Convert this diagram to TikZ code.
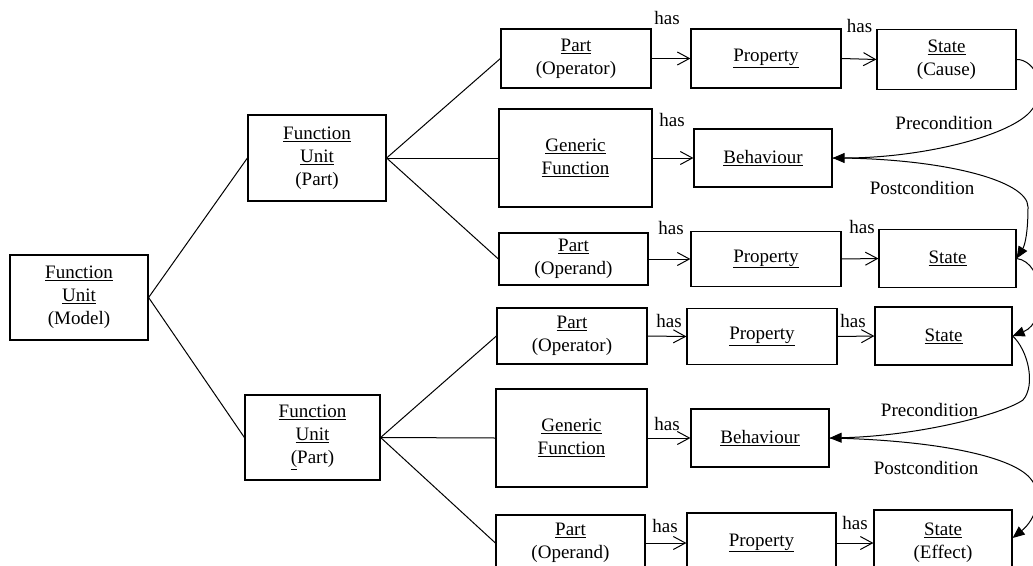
\documentclass[tikz,border=0pt]{standalone}
\usepackage{fontspec}
\setmainfont{Liberation Serif}
\usetikzlibrary{arrows.meta}
\newcommand{\diagfont}{\fontsize{19}{23}\selectfont}
\begin{document}
\begin{tikzpicture}[x=1pt,y=-1pt,
  box/.style={draw, line width=1.2pt, inner sep=0pt, align=center, font=\diagfont},
  lbl/.style={inner sep=0pt, font=\diagfont},
  tree/.style={line width=1pt},
  haslink/.style={line width=1pt, -{Straight Barb[length=12pt,width=13pt,line width=1pt]}},
  cond/.style={line width=1pt, -{Triangle[length=12pt,width=10pt]}}]
\useasboundingbox (0,0) rectangle (1033,565);
\clip (0,0) rectangle (1033,565);

% tree nodes
\node[box, minimum width=138pt, minimum height=85pt] (fum) at (79,297.5) {\underline{Function}\\\underline{Unit}\\(Model)};
\node[box, minimum width=138pt, minimum height=86pt] (fu1) at (317,158) {\underline{Function}\\\underline{Unit}\\(Part)};
\node[box, minimum width=135pt, minimum height=85pt] (fu2) at (312.5,437.5) {\underline{Function}\\\underline{Unit}\\\underline{(}Part)};

% upper group
\node[box, minimum width=150pt, minimum height=59pt] (po1) at (576,58.5) {\underline{Part}\\(Operator)};
\node[box, minimum width=150pt, minimum height=59pt] (pr1) at (766,58.5) {\underline{Property}};
\node[box, minimum width=139pt, minimum height=60pt] (sc) at (946.5,59.5) {\underline{State}\\(Cause)};
\node[box, minimum width=153pt, minimum height=98pt] (gf1) at (575.5,158) {\underline{Generic}\\\underline{Function}};
\node[box, minimum width=138pt, minimum height=58pt] (b1) at (763,158) {\underline{Behaviour}};
\node[box, minimum width=149pt, minimum height=52pt] (pd1) at (573.5,259) {\underline{Part}\\(Operand)};
\node[box, minimum width=150pt, minimum height=55pt] (pr2) at (766,259) {\underline{Property}};
\node[box, minimum width=137pt, minimum height=58pt] (st2) at (947.5,258.5) {\underline{State}};

% lower group
\node[box, minimum width=150pt, minimum height=56pt] (po2) at (572,336) {\underline{Part}\\(Operator)};
\node[box, minimum width=150pt, minimum height=56pt] (pr3) at (762,336.5) {\underline{Property}};
\node[box, minimum width=137pt, minimum height=58pt] (st3) at (943.5,336) {\underline{State}};
\node[box, minimum width=151pt, minimum height=98pt] (gf2) at (571.5,438) {\underline{Generic}\\\underline{Function}};
\node[box, minimum width=138pt, minimum height=58pt] (b2) at (760,438) {\underline{Behaviour}};
\node[box, minimum width=149pt, minimum height=56pt] (pd2) at (570.5,543) {\underline{Part}\\(Operand)};
\node[box, minimum width=149pt, minimum height=60pt] (pr4) at (761.5,543) {\underline{Property}};
\node[box, minimum width=138pt, minimum height=66pt] (se) at (943,543) {\underline{State}\\(Effect)};

% tree connectors
\draw[tree] (fum.east) -- (fu1.west);
\draw[tree] (fum.east) -- (fu2.west);
\draw[tree] (fu1.east) -- (po1.west);
\draw[tree] (fu1.east) -- (gf1.west);
\draw[tree] (fu1.east) -- (pd1.west);
\draw[tree] (fu2.east) -- (po2.west);
\draw[tree] (fu2.east) -- (gf2.west);
\draw[tree] (fu2.east) -- (pd2.west);

% has links
\draw[haslink] (po1.east) -- (pr1.west);
\draw[haslink] (pr1.east) -- (sc.west);
\draw[haslink] (gf1.east) -- (b1.west);
\draw[haslink] (pd1.east) -- (pr2.west);
\draw[haslink] (pr2.east) -- (st2.west);
\draw[haslink] (po2.east) -- (pr3.west);
\draw[haslink] (pr3.east) -- (st3.west);
\draw[haslink] (gf2.east) -- (b2.west);
\draw[haslink] (pd2.east) -- (pr4.west);
\draw[haslink] (pr4.east) -- (se.west);

\node[lbl] (h1) at (667,18) {has};
\node[lbl] (h2) at (859.5,26) {has};
\node[lbl] (h3) at (672,120) {has};
\node[lbl] (h4) at (671,228) {has};
\node[lbl] (h5) at (862,227) {has};
\node[lbl] (h6) at (669,321) {has};
\node[lbl] (h7) at (853,321) {has};
\node[lbl] (h8) at (667,424) {has};
\node[lbl] (h9) at (665,526) {has};
\node[lbl] (h10) at (855,523) {has};

% condition curves
\coordinate (w1) at (1030,112);
\draw[cond] (sc.east) .. controls (1035,59) and (1050,90) .. (w1) .. controls (1007,137) and (920,158) .. (b1.east);
\coordinate (w2) at (1028,207);
\draw[cond] (b1.east) .. controls (940,158) and (1028,180) .. (w2) .. controls (1028,232) and (1025,245) .. (st2.east);
\draw[cond] (st2.east) .. controls (1045,262) and (1048,322) .. (st3.east);
\coordinate (w4) at (1023,400);
\draw[cond] (st3.east) .. controls (1028,350) and (1036,385) .. (w4) .. controls (1003,414) and (920,436) .. (b2.east);
\coordinate (w5) at (1030,478);
\draw[cond] (b2.east) .. controls (930,440) and (1010,455) .. (w5) .. controls (1045,495) and (1035,520) .. ([yshift=5pt]se.east);

\node[lbl] (pre1) at (944,123) {Precondition};
\node[lbl] (post1) at (922,188) {Postcondition};
\node[lbl] (pre2) at (929.5,410) {Precondition};
\node[lbl] (post2) at (926,468) {Postcondition};
\end{tikzpicture}
\end{document}
